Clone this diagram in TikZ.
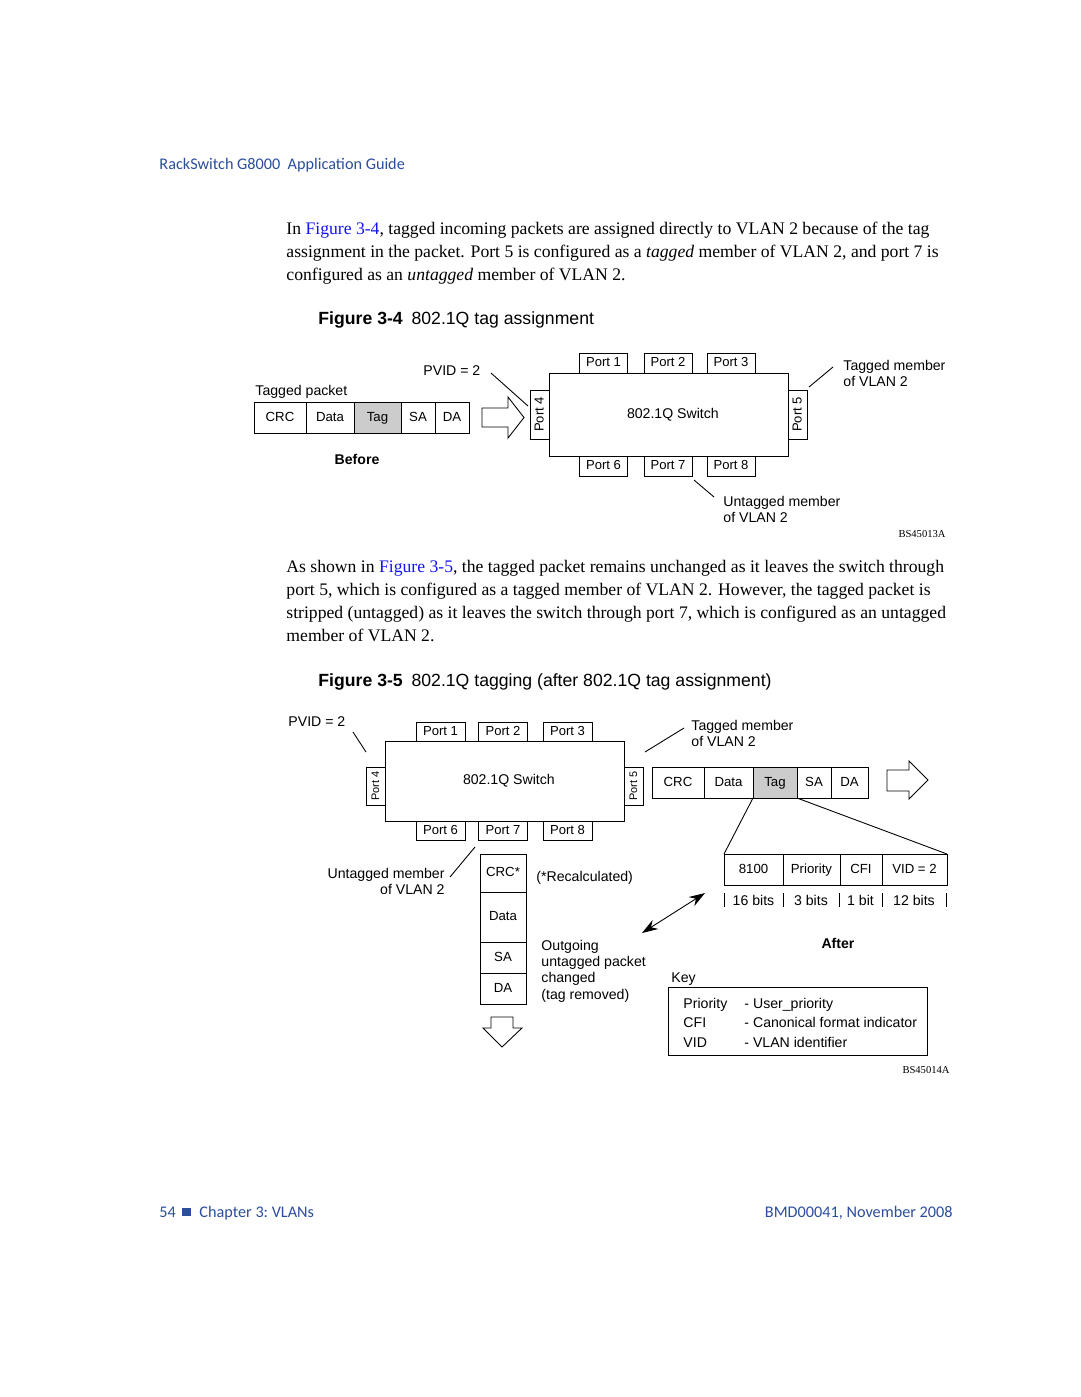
\documentclass[tikz,border=0pt]{standalone}
\usepackage{fontspec}
\setmainfont{Liberation Serif}
\setsansfont{Liberation Sans}
\newfontfamily\guidefont{Carlito}
\usetikzlibrary{arrows.meta}
\definecolor{guideblue}{RGB}{44,78,158}
\definecolor{linkblue}{RGB}{20,20,245}
\definecolor{taggray}{RGB}{204,204,204}
\newcommand\pxu{0.5667pt}

\tikzset{
  lbl/.style={font=\sffamily\fontsize{8}{9}\selectfont, inner sep=0pt},
  cell/.style={draw, inner sep=0pt, outer sep=0pt, minimum height=31*\pxu,
    text height=5.6pt, text depth=1.6pt, font=\sffamily\fontsize{7.5}{9}\selectfont},
  tagcell/.style={cell, fill=taggray},
  portbox/.style={cell, minimum width=48*\pxu, minimum height=20*\pxu,
    font=\sffamily\fontsize{7.4}{9}\selectfont},
  sidebox/.style={portbox, rotate=90, minimum width=49*\pxu, minimum height=19*\pxu},
  switchbox/.style={cell, minimum width=239*\pxu, font=\sffamily\fontsize{8}{9}\selectfont},
  hollow/.style={draw, fill=white, line join=miter},
  bodytext/.style={font=\fontsize{10}{13}\selectfont, inner sep=0pt, align=left},
  guide/.style={font=\guidefont\fontsize{9.2}{11}\selectfont, text=guideblue, inner sep=0pt},
  captext/.style={font=\sffamily\fontsize{10}{12}\selectfont, inner sep=0pt},
  figid/.style={font=\fontsize{6}{7}\selectfont, inner sep=0pt},
}
\newcommand\figref[1]{\textcolor{linkblue}{#1}}

\begin{document}
\begin{tikzpicture}[x=0.5667pt, y=-0.5667pt, line width=0.5pt]
  \useasboundingbox[fill=white] (0,0) rectangle (1080,1397);

  % page header and text (base anchor = last line)
  \node[guide, anchor=base west] (head) at (159,169) {RackSwitch G8000\ \ Application Guide};
  \node[bodytext, anchor=base west] (para1) at (286,280)
    {In \figref{Figure 3-4}, tagged incoming packets are assigned directly to VLAN 2 because of the tag\\
     assignment in the packet. Port 5 is configured as a \textit{tagged} member of VLAN 2, and port 7 is\\
     configured as an \textit{untagged} member of VLAN 2.};
  \node[captext, anchor=base west] (cap1) at (318,324) {\textbf{Figure 3-4}\hspace{5pt}802.1Q tag assignment};

  % figure 3-4
  \node[lbl, anchor=base west] (tp1) at (255,395) {Tagged packet};
  \node[cell, minimum width=52*\pxu, anchor=west] (crc1) at (254,417.5) {CRC};
  \node[cell, minimum width=48*\pxu, anchor=west] (data1) at (crc1.east) {Data};
  \node[tagcell, minimum width=47*\pxu, anchor=west] (tag1) at (data1.east) {Tag};
  \node[cell, minimum width=34*\pxu, anchor=west] (sa1) at (tag1.east) {SA};
  \node[cell, minimum width=34*\pxu, anchor=west] (da1) at (sa1.east) {DA};
  \node[lbl, font=\sffamily\bfseries\fontsize{8}{9}\selectfont, anchor=base] (before) at (357,464) {Before};
  \draw[hollow] (482,408) -- (508,408) -- (508,397) -- (524,417.5) -- (508,438) -- (508,427) -- (482,427) -- cycle;

  \node[switchbox, minimum height=83*\pxu] (sw1) at (668.5,414.5) {\hspace{5pt}802.1Q Switch};
  \node[portbox] (p11) at (603.5,363) {Port 1};
  \node[portbox] (p12) at (668,363) {Port 2};
  \node[portbox] (p13) at (731,363) {Port 3};
  \node[portbox] (p16) at (603.5,466) {Port 6};
  \node[portbox] (p17) at (668,466) {Port 7};
  \node[portbox] (p18) at (731,466) {Port 8};
  \node[sidebox] (p14) at (540,414.5) {Port 4};
  \node[sidebox] (p15) at (798,414.5) {Port 5};

  \node[lbl, anchor=base west] (pvid1) at (423,375) {PVID = 2};
  \coordinate (pvid1a) at (491,373);
  \coordinate (pvid1b) at (528,406);
  \draw (pvid1a) -- (pvid1b);
  \node[lbl, anchor=base west, align=left] (tm1) at (843,386) {Tagged member\\of VLAN 2};
  \coordinate (tm1a) at (809,387);
  \coordinate (tm1b) at (833,367);
  \draw (tm1a) -- (tm1b);
  \node[lbl, anchor=base west, align=left] (um1) at (723,522) {Untagged member\\of VLAN 2};
  \coordinate (um1a) at (694,480);
  \coordinate (um1b) at (714,497);
  \draw (um1a) -- (um1b);
  \node[figid, anchor=base east] (bs1) at (946,537) {BS45013A};

  \node[bodytext, anchor=base west] (para2) at (286,641)
    {As shown in \figref{Figure 3-5}, the tagged packet remains unchanged as it leaves the switch through\\
     port 5, which is configured as a tagged member of VLAN 2. However, the tagged packet is\\
     stripped (untagged) as it leaves the switch through port 7, which is configured as an untagged\\
     member of VLAN 2.};
  \node[captext, anchor=base west] (cap2) at (318,686) {\textbf{Figure 3-5}\hspace{5pt}802.1Q tagging (after 802.1Q tag assignment)};

  % figure 3-5
  \node[switchbox, minimum height=80*\pxu] (sw2) at (504.5,781) {\hspace{5pt}802.1Q Switch};
  \node[portbox, minimum width=49*\pxu, minimum height=19*\pxu] (p21) at (440.5,731.5) {Port 1};
  \node[portbox, minimum width=49*\pxu, minimum height=19*\pxu] (p22) at (503,731.5) {Port 2};
  \node[portbox, minimum width=49*\pxu, minimum height=19*\pxu] (p23) at (567.5,731.5) {Port 3};
  \node[portbox, minimum width=49*\pxu, minimum height=19*\pxu] (p26) at (440.5,831) {Port 6};
  \node[portbox, minimum width=49*\pxu, minimum height=19*\pxu] (p27) at (503,831) {Port 7};
  \node[portbox, minimum width=49*\pxu, minimum height=19*\pxu] (p28) at (567.5,831) {Port 8};
  \node[sidebox, minimum width=38*\pxu, font=\sffamily\fontsize{6.2}{7}\selectfont] (p24) at (375.5,786) {Port 4};
  \node[sidebox, minimum width=38*\pxu, font=\sffamily\fontsize{6.2}{7}\selectfont] (p25) at (633.5,786) {Port 5};

  \node[lbl, anchor=base west] (pvid2) at (288,726) {PVID = 2};
  \coordinate (pvid2a) at (353,732);
  \coordinate (pvid2b) at (366,752);
  \draw (pvid2a) -- (pvid2b);
  \node[lbl, anchor=base west, align=left] (tm2) at (691,746) {Tagged member\\of VLAN 2};
  \coordinate (tm2a) at (645,752);
  \coordinate (tm2b) at (684,728);
  \draw (tm2a) -- (tm2b);
  \node[lbl, anchor=base east, align=right] (um2) at (445,894) {Untagged member\\of VLAN 2};
  \coordinate (um2a) at (475,847);
  \coordinate (um2b) at (450,877);
  \draw (um2a) -- (um2b);

  % tagged packet leaving port 5
  \node[cell, minimum width=52*\pxu, anchor=west] (crc2) at (652,782.5) {CRC};
  \node[cell, minimum width=49*\pxu, anchor=west] (data2) at (crc2.east) {Data};
  \node[tagcell, minimum width=44*\pxu, anchor=west] (tag2) at (data2.east) {Tag};
  \node[cell, minimum width=34*\pxu, anchor=west] (sa2) at (tag2.east) {SA};
  \node[cell, minimum width=37*\pxu, anchor=west] (da2) at (sa2.east) {DA};
  \draw[hollow] (887,770) -- (909,770) -- (909,761) -- (928,780) -- (909,799) -- (909,791) -- (887,791) -- cycle;

  \node[cell, minimum width=59*\pxu, anchor=west] (f8100) at (724,869.5) {8100};
  \node[cell, minimum width=57*\pxu, anchor=west] (fprio) at (f8100.east) {Priority};
  \node[cell, minimum width=42*\pxu, anchor=west] (fcfi) at (fprio.east) {CFI};
  \node[cell, minimum width=65*\pxu, anchor=west] (fvid) at (fcfi.east) {VID = 2};
  \draw (tag2.south west) -- (f8100.north west);
  \draw (tag2.south east) -- (fvid.north east);

  \draw (724,893) -- (724,907) (783,893) -- (783,907) (839,893) -- (839,907)
        (882,893) -- (882,907) (946,893) -- (946,907);
  \node[lbl, anchor=base] (b16) at (753.5,905) {16 bits};
  \node[lbl, anchor=base] (b3) at (811,905) {3 bits};
  \node[lbl, anchor=base] (b1) at (860.5,905) {1 bit};
  \node[lbl, anchor=base] (b12) at (914,905) {12 bits};
  \node[lbl, font=\sffamily\bfseries\fontsize{8}{9}\selectfont, anchor=base] (after) at (838,948) {After};

  % untagged packet leaving port 7
  \node[cell, minimum width=46*\pxu, minimum height=38*\pxu, anchor=north] (crc3) at (503,854) {CRC*};
  \node[cell, minimum width=46*\pxu, minimum height=50*\pxu, anchor=north] (data3) at (crc3.south) {Data};
  \node[cell, minimum width=46*\pxu, minimum height=31*\pxu, anchor=north] (sa3) at (data3.south) {SA};
  \node[cell, minimum width=46*\pxu, minimum height=31*\pxu, anchor=north] (da3) at (sa3.south) {DA};
  \draw[hollow] (491,1017) -- (513,1017) -- (513,1028) -- (522,1028) -- (502,1047) -- (483,1028) -- (491,1028) -- cycle;
  \node[lbl, anchor=base west] (recalc) at (536,881) {(*Recalculated)};
  \node[lbl, anchor=base west, align=left, font=\sffamily\fontsize{8}{9.1}\selectfont] (outg) at (541,999)
    {Outgoing\\untagged packet\\changed\\(tag removed)};

  \coordinate (dbl1) at (705,893);
  \coordinate (dbl2) at (642,933);
  \draw[{Stealth[length=9pt,width=6pt]}-{Stealth[length=9pt,width=6pt]}] (dbl1) -- (dbl2);

  % key
  \node[lbl, anchor=base west] (keyt) at (671,982) {Key};
  \node[draw, inner sep=0pt, minimum width=259*\pxu, minimum height=68*\pxu, anchor=north west] (key) at (668,987) {};
  \node[lbl, anchor=base west, align=left, font=\sffamily\fontsize{8}{11}\selectfont] (keyl) at (683,1047)
    {Priority\\CFI\\VID};
  \node[lbl, anchor=base west, align=left, font=\sffamily\fontsize{8}{11}\selectfont] (keyr) at (744,1047)
    {- User\_priority\\- Canonical format indicator\\- VLAN identifier};
  \node[figid, anchor=base east] (bs2) at (950,1073) {BS45014A};

  % footer
  \node[guide, anchor=base west] (pgno) at (159,1217) {54};
  \fill[guideblue] (182,1208) rectangle (191,1216);
  \node[guide, anchor=base west] (chap) at (199,1217) {Chapter 3:\ VLANs};
  \node[guide, anchor=base east] (docid) at (953,1217) {BMD00041, November 2008};
\end{tikzpicture}
\end{document}
